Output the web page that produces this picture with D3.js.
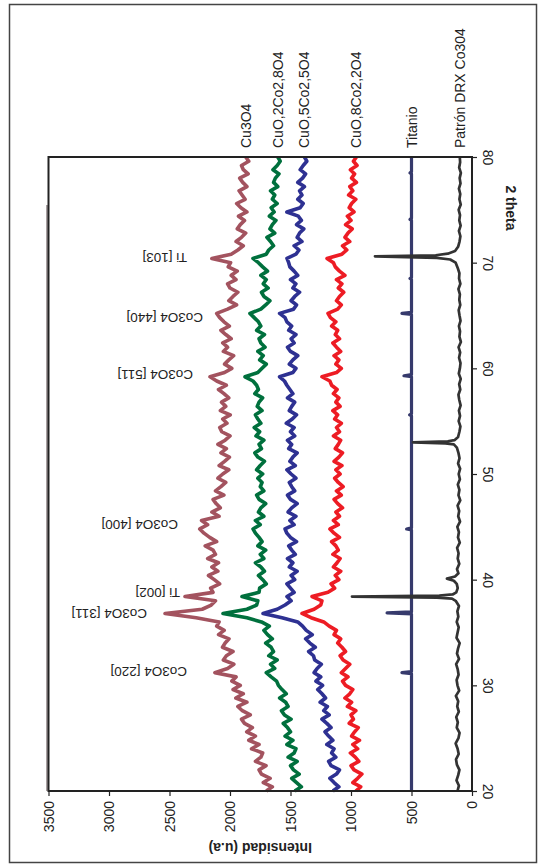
<!DOCTYPE html>
<html>
<head>
<meta charset="utf-8">
<script src="https://cdn.jsdelivr.net/npm/d3@7"></script>
<style>
  body { margin: 0; background: #fff; }
  svg { display: block; }
</style>
</head>
<body>
<svg id="chart" width="542" height="868"></svg>
<script>
// 2 theta grid shared by the sample series (0.4 deg step)
const theta = d3.range(151).map(i => +(20 + 0.4 * i).toFixed(1));

const cu3o4 = [
  1700, 1650, 1725, 1668, 1740, 1760, 1702, 1790, 1745, 1730, 1822, 1760, 1845,
  1790, 1862, 1815, 1880, 1905, 1832, 1898, 1935, 1860, 1952, 1890, 1975, 1915,
  1985, 1950, 2125, 2020, 1968, 2055,
  2030, 1975, 2062, 2040, 2008, 2095, 2048, 2110,
  2090, 2280, 2537, 2230, 2155, 2120, 2372, 2140,
  2160, 2085, 2130, 2178, 2100, 2150, 2095, 2185, 2120, 2140, 2205, 2110, 2168, 2215,
  2250, 2185, 2235,
  2090, 2150, 2080, 2115, 2140, 2050, 2120, 2075, 2035, 2100,
  2060, 2010, 2090, 2045, 2005, 2075, 2030, 2100, 2040, 2000, 2068, 2085, 2025, 2060, 1998, 2080, 2035, 2070, 2010, 2050, 2095, 2030, 2110,
  2165, 2045,
  1985, 2045, 2010, 1970, 2055, 2020, 2060, 1990, 2035, 2075, 2005, 2050, 2085,
  2110, 2020,
  1945, 2010, 1975, 1935, 2000, 2020, 1950, 1990, 1940, 2015, 1995,
  2150, 1990,
  1935, 1890, 1950, 1905, 1870, 1940, 1915, 1880, 1930, 1860, 1910, 1945, 1875, 1900, 1925, 1860, 1895, 1920, 1850, 1890, 1905, 1845, 1870
];

const cuo28 = [
  1465, 1410, 1450, 1490, 1428, 1475, 1500, 1445, 1520, 1470, 1455, 1530, 1480,
  1545, 1500, 1525, 1560, 1495, 1550, 1575, 1520, 1540, 1590, 1535, 1570, 1600,
  1615, 1660, 1700, 1630, 1665, 1610,
  1680, 1640, 1660, 1705, 1650, 1690, 1720, 1675,
  1740, 1860, 2058, 1860, 1780, 1770, 1901, 1760,
  1755, 1700, 1730, 1765, 1715, 1745, 1790, 1720, 1750, 1705, 1770, 1735, 1760, 1790,
  1810, 1750, 1790,
  1720, 1765, 1745, 1705, 1760, 1780, 1720, 1750, 1735, 1770,
  1730, 1780, 1750, 1715, 1770, 1795, 1740, 1760, 1720, 1785, 1755, 1800, 1745, 1770, 1790, 1735, 1775, 1760, 1730, 1795, 1765, 1780, 1810,
  1876, 1770,
  1735, 1700, 1755, 1725, 1770, 1710, 1745, 1760, 1715, 1780, 1745, 1765, 1800,
  1835, 1745,
  1705, 1670, 1720, 1740, 1685, 1725, 1700, 1745, 1690, 1730, 1765,
  1810, 1700,
  1680, 1640, 1665, 1695, 1630, 1670, 1650, 1620, 1675, 1635, 1660, 1610, 1650, 1630, 1665, 1605, 1640, 1625, 1595, 1645, 1610, 1585, 1605
];

const cuo55 = [
  1150, 1100, 1140, 1175, 1120, 1095, 1165, 1185, 1125, 1160, 1140, 1200, 1150,
  1185, 1215, 1165, 1200, 1240, 1180, 1225, 1195, 1255, 1210, 1240, 1275, 1235,
  1290, 1250, 1305, 1280, 1245, 1300,
  1310, 1350, 1295, 1340, 1375, 1320, 1370, 1400,
  1440, 1570, 1727, 1610, 1545, 1495, 1529, 1470,
  1500, 1530, 1465, 1495, 1445, 1510, 1480, 1525, 1460, 1490, 1515, 1450, 1500, 1530,
  1545, 1470, 1505,
  1455, 1520, 1490, 1445, 1500, 1525, 1465, 1490, 1510, 1455,
  1495, 1530, 1460, 1505, 1480, 1445, 1515, 1490, 1525, 1465, 1500, 1470, 1535, 1485, 1450, 1510, 1490, 1465, 1525, 1480, 1505, 1530, 1550,
  1590, 1480,
  1455, 1510, 1480, 1440, 1500, 1525, 1470, 1495, 1455, 1515, 1490, 1530, 1545,
  1590, 1475,
  1450, 1495, 1465, 1425, 1480, 1455, 1500, 1440, 1470, 1505, 1515,
  1529, 1455,
  1430, 1470, 1405, 1445, 1425, 1390, 1450, 1410, 1435, 1530, 1420, 1395, 1440, 1405, 1425, 1385, 1440, 1400, 1375, 1420, 1395, 1365, 1385
];

const cuo82 = [
  960, 920, 985, 945, 910, 975, 1000, 935, 965, 1005, 945, 985, 930,
  995, 970, 940, 1015, 980, 1000, 960, 1030, 995, 1050, 1010, 985, 1045,
  1070, 1025, 1080, 1045, 1010, 1065,
  1090, 1045, 1075, 1110, 1085, 1140, 1120, 1180,
  1225, 1330, 1405, 1305, 1250, 1240, 1322, 1190,
  1135, 1165, 1100, 1130, 1085, 1145, 1115, 1090, 1150, 1105, 1125, 1160, 1095, 1140,
  1174, 1105, 1145,
  1095, 1125, 1070, 1110, 1140, 1080, 1120, 1065, 1105, 1135,
  1090, 1125, 1075, 1140, 1100, 1070, 1130, 1105, 1085, 1145, 1095, 1120, 1080, 1135, 1110, 1150, 1090, 1125, 1100, 1145, 1115, 1160, 1175,
  1240, 1120,
  1080, 1125, 1100, 1140, 1085, 1120, 1150, 1095, 1130, 1110, 1160, 1125, 1170,
  1190, 1110,
  1080, 1120, 1095, 1060, 1105, 1075, 1120, 1050, 1095, 1130, 1145,
  1198, 1075,
  1035, 1070, 1010, 1050, 1025, 990, 1045, 1000, 1030, 975, 1015, 995, 960, 1020, 985, 1010, 955, 995, 970, 1005, 950, 980, 955
];

// reference trace, with its own sampling so the Ti peaks stay sharp
const patronTheta = [
  20, 20.5, 21, 21.5, 22, 22.5, 23, 23.5, 24, 24.5, 25, 25.5, 26, 26.5, 27, 27.5, 28, 28.5, 29, 29.5,
  30, 30.5, 31, 31.5, 32, 32.5, 33, 33.5, 34, 34.5, 35, 35.5, 36, 36.5, 37, 37.5,
  38, 38.2, 38.3, 38.4, 38.5, 38.6, 38.8, 39.2, 39.6, 39.9, 40.1, 40.3, 40.6,
  41, 41.5, 42, 42.5, 43, 43.5, 44, 44.5, 45, 45.5, 46, 46.5, 47, 47.5, 48, 48.5, 49, 49.5,
  50, 50.5, 51, 51.5, 52, 52.5, 52.8, 52.9, 53, 53.1, 53.2, 53.5,
  54, 54.5, 55, 55.5, 56, 56.5, 57, 57.5, 58, 58.5, 59, 59.5, 60, 60.5, 61, 61.5, 62, 62.5,
  63, 63.5, 64, 64.5, 65, 65.5, 66, 66.5, 67, 67.5, 68, 68.5, 69, 69.5,
  70, 70.3, 70.45, 70.6, 70.7, 70.85, 71.1, 71.5,
  72, 72.5, 73, 73.5, 74, 74.5, 75, 75.5, 76, 76.5, 77, 77.5, 78, 78.5, 79, 79.5, 80
];
const patron = [
  120, 108, 128, 114, 104, 125, 132, 110, 119, 135, 112, 103, 126, 117, 130, 109, 122, 114, 133, 106,
  120, 127, 111, 118, 131, 107, 124, 115, 102, 128, 119, 110, 126, 113, 121, 108,
  135, 165, 290, 992, 270, 160, 130, 118, 126, 150, 207, 140, 112,
  124, 105, 118, 111, 123, 101, 116, 108, 121, 99, 114, 106, 119, 97, 112, 104, 117, 100,
  110, 98, 115, 103, 112, 125, 150, 220, 488, 200, 145, 115,
  104, 96, 110, 99, 108, 94, 105, 112, 97, 106, 93, 109, 100, 95, 107, 98, 111, 92,
  104, 99, 108, 95, 103, 110, 97, 105, 100, 112, 96, 107, 104, 118,
  135, 180, 290, 802, 300, 200, 140, 115,
  103, 96, 108, 94, 105, 99, 110, 93, 104, 97, 108, 95, 102, 92, 106, 98, 101
];

// titanio trace: flat line with narrow marks
const titanioTheta = [20, 31.1, 31.2, 31.3, 36.75, 36.85, 36.95, 44.7, 44.8, 44.9, 55.5, 55.6, 55.7,
  59.2, 59.3, 59.4, 65.1, 65.2, 65.3, 68.4, 68.5, 68.6, 74.0, 74.1, 74.2, 78.4, 78.5, 78.6, 80];
const titanio = [500, 500, 579, 500, 500, 702, 500, 500, 540, 500, 500, 515, 500,
  500, 562, 500, 500, 579, 500, 500, 512, 500, 500, 512, 500, 500, 512, 500, 500];

const seriesNames = ["Cu3O4", "CuO,2Co2,8O4", "CuO,5Co2,5O4", "CuO,8Co2,2O4", "Titanio", "Patrón DRX Co304"];
const seriesColors = ["#a3535f", "#00703d", "#2e3192", "#ed1c24", "#363a6c", "#333333"];

const peakLabels = ["Co3O4 [220]", "Co3O4 [311]", "Ti [002]", "Co3O4 [400]", "Co3O4 [511]", "Co3O4 [440]", "Ti [103]"];
const peakTheta = [31.3, 36.8, 38.8, 45.2, 59.4, 64.85, 70.5];
const peakLevel = [2355, 2686, 2413, 2430, 2306, 2223, 2355];

const intensityTicks = [0, 500, 1000, 1500, 2000, 2500, 3000, 3500];
const thetaTicks = [20, 30, 40, 50, 60, 70, 80];

const svg = d3.select("#chart");
const font = "'Liberation Sans', Arial, sans-serif";
const narrow = "'Liberation Sans Narrow', 'Arial Narrow', 'Liberation Sans', sans-serif";

// chart is turned a quarter: intensity runs right-to-left, 2 theta bottom-to-top
const x = d3.scaleLinear().domain([3500, 0]).range([48.5, 472]);
const y = d3.scaleLinear().domain([20, 80]).range([791, 157]);

// outer border
svg.append("rect")
    .attr("x", 9.5).attr("y", 4.5)
    .attr("width", 527).attr("height", 858)
    .attr("fill", "none").attr("stroke", "#444").attr("stroke-width", 1.5);

// faint line at the left side of the plot area
svg.append("line")
    .attr("x1", 47).attr("x2", 47)
    .attr("y1", 205).attr("y2", 791)
    .attr("stroke", "#8a7f80").attr("stroke-width", 1.5);

const line = d3.line()
    .x(d => x(d[1]))
    .y(d => y(d[0]));

const samples = [cu3o4, cuo28, cuo55, cuo82];
const tracks = samples.map(vals => theta.map((t, i) => [t, vals[i]]));
tracks.push(titanioTheta.map((t, i) => [t, titanio[i]]));
tracks.push(patronTheta.map((t, i) => [t, patron[i]]));

svg.append("g").attr("id", "traces")
    .selectAll("path")
    .data(tracks)
    .enter()
    .append("path")
    .attr("d", line)
    .attr("fill", "none")
    .attr("stroke", (d, i) => seriesColors[i])
    .attr("stroke-width", (d, i) => i === 5 ? 2.7 : (i === 4 ? 3.2 : 3.6))
    .attr("stroke-linejoin", "round");

// plot frame
svg.append("rect")
    .attr("x", x(3500)).attr("y", y(80))
    .attr("width", x(0) - x(3500)).attr("height", y(20) - y(80))
    .attr("fill", "none").attr("stroke", "#222").attr("stroke-width", 2);

// intensity axis along the bottom
const bottomAxis = svg.append("g")
    .attr("transform", "translate(0," + y(20) + ")")
    .call(d3.axisBottom(x).tickValues(intensityTicks).tickFormat(d3.format("d")).tickSize(5).tickSizeOuter(0));
bottomAxis.select(".domain").remove();
bottomAxis.selectAll("line").attr("stroke", "#222").attr("stroke-width", 1.2);
bottomAxis.selectAll("text")
    .attr("transform", "rotate(-90)")
    .attr("text-anchor", "end")
    .attr("x", -10).attr("y", 0).attr("dy", "0.35em")
    .attr("font-family", narrow).attr("font-size", 14).attr("fill", "#222");

// 2 theta axis on the right
const rightAxis = svg.append("g")
    .attr("transform", "translate(" + x(0) + ",0)")
    .call(d3.axisRight(y).tickValues(thetaTicks).tickFormat(d3.format("d")).tickSize(5).tickSizeOuter(0));
rightAxis.select(".domain").remove();
rightAxis.selectAll("line").attr("stroke", "#222").attr("stroke-width", 1.2);
rightAxis.selectAll("text")
    .attr("transform", "rotate(90)")
    .attr("text-anchor", "middle")
    .attr("x", 0).attr("y", -11).attr("dy", 0)
    .attr("font-family", narrow).attr("font-size", 14).attr("fill", "#222");

// axis titles
svg.append("text")
    .text("Intensidad (u.a)")
    .attr("transform", "translate(" + (x(0) + x(3500)) / 2 + ",843) rotate(180)")
    .attr("text-anchor", "middle")
    .attr("font-family", font).attr("font-size", 14).attr("font-weight", "bold").attr("fill", "#222");

svg.append("text")
    .text("2 theta")
    .attr("transform", "translate(506,208) rotate(90)")
    .attr("text-anchor", "middle")
    .attr("font-family", font).attr("font-size", 14).attr("font-weight", "bold").attr("fill", "#222");

// series names at the 80 deg end of each trace
const lastValues = tracks.map(t => t[t.length - 1][1]);
svg.append("g").attr("id", "names")
    .selectAll("text")
    .data(seriesNames)
    .enter()
    .append("text")
    .text(d => d)
    .attr("transform", (d, i) => "translate(" + (x(lastValues[i]) + 5) + "," + (y(80) - 9) + ") rotate(-90)")
    .attr("text-anchor", "start")
    .attr("font-family", font).attr("font-size", 14).attr("fill", "#222");

// peak labels, upside down
svg.append("g").attr("id", "peaks")
    .selectAll("text")
    .data(peakLabels)
    .enter()
    .append("text")
    .text(d => d)
    .attr("transform", (d, i) => "translate(" + x(peakLevel[i]) + "," + (y(peakTheta[i]) - 4.5) + ") rotate(180)")
    .attr("text-anchor", "start")
    .attr("font-family", font).attr("font-size", 13.5).attr("fill", "#222");
</script>
</body>
</html>
